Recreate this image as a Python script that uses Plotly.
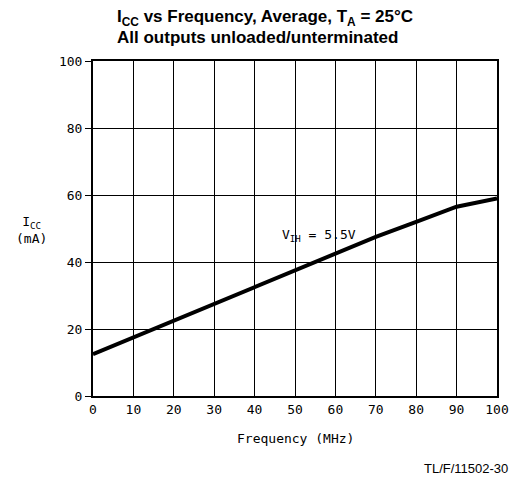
import plotly.graph_objects as go

freq = [0, 10, 20, 30, 40, 50, 60, 70, 80, 90, 100]
icc = [12.5, 17.5, 22.5, 27.5, 32.5, 37.5, 42.5, 47.5, 52.0, 56.5, 59.0]
x_ticks = [0, 10, 20, 30, 40, 50, 60, 70, 80, 90, 100]
y_ticks = [0, 20, 40, 60, 80, 100]

mono = "DejaVu Sans Mono"
sans = "Liberation Sans"
fig = go.Figure()
fig.add_trace(go.Scatter(x=freq, y=icc, mode="lines",
                         line=dict(color="black", width=4), showlegend=False))

fig.update_layout(
    width=513, height=481, autosize=False,
    margin=dict(l=93, r=16, t=61, b=85),
    paper_bgcolor="white", plot_bgcolor="white",
    xaxis=dict(
        range=[0, 100], tickvals=x_ticks, ticktext=[str(v) for v in x_ticks],
        showgrid=True, gridcolor="black", gridwidth=1,
        showline=True, linecolor="black", linewidth=2, mirror=True,
        ticks="", zeroline=False, automargin=False,
        tickfont=dict(family=mono, size=13, color="black"),
    ),
    yaxis=dict(
        range=[0, 100], tickvals=y_ticks, ticktext=[str(v) for v in y_ticks],
        showgrid=True, gridcolor="black", gridwidth=1,
        showline=True, linecolor="black", linewidth=2, mirror=True,
        ticks="outside", ticklen=6, tickcolor="black", tickwidth=1, zeroline=False,
        automargin=False,
        tickfont=dict(family=mono, size=13, color="black"),
    ),
    annotations=[
        dict(text="<b>I<sub>CC</sub> vs Frequency, Average, T<sub>A</sub> = 25°C</b>",
             xref="paper", yref="paper", x=0.054, y=1.128, showarrow=False,
             xanchor="left", yanchor="middle",
             font=dict(family=sans, size=17, color="black")),
        dict(text="<b>All outputs unloaded/unterminated</b>",
             xref="paper", yref="paper", x=0.054, y=1.069, showarrow=False,
             xanchor="left", yanchor="middle",
             font=dict(family=sans, size=17, color="black")),
        dict(text="I<sub>CC</sub><br>(mA)", xref="paper", yref="paper", x=-0.151, y=0.496,
             showarrow=False, xanchor="center", yanchor="middle", align="center",
             font=dict(family=mono, size=13, color="black")),
        dict(text="Frequency (MHz)", xref="paper", yref="paper", x=0.5, y=-0.128,
             showarrow=False, xanchor="center", yanchor="middle",
             font=dict(family=mono, size=13, color="black")),
        dict(text="V<sub>IH</sub> = 5.5V", xref="x", yref="y", x=46.3, y=47.8,
             showarrow=False, xanchor="left", yanchor="middle",
             font=dict(family=mono, size=13, color="black")),
        dict(text="TL/F/11502-30", xref="paper", yref="paper", x=1.032, y=-0.215,
             showarrow=False, xanchor="right", yanchor="middle",
             font=dict(family=sans, size=13, color="black")),
    ],
)
fig.write_html("out.html")
